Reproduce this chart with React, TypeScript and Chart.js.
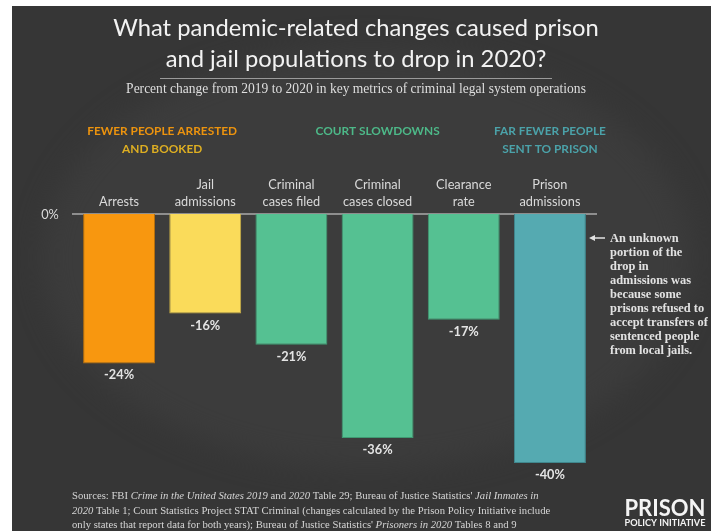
import React, { useEffect, useRef } from "react";
import { Chart, registerables } from "chart.js";
Chart.register(...registerables);

// ---------- data ----------
const titleLines = ["What pandemic-related changes caused prison", "and jail populations to drop in 2020?"];
const subtitle = "Percent change from 2019 to 2020 in key metrics of criminal legal system operations";
const categories = [
  ["Arrests"],
  ["Jail", "admissions"],
  ["Criminal", "cases filed"],
  ["Criminal", "cases closed"],
  ["Clearance", "rate"],
  ["Prison", "admissions"],
];
const values = [-24, -16, -21, -36, -17, -40];
const valueLabels = ["-24%", "-16%", "-21%", "-36%", "-17%", "-40%"];
const barColors = ["#F8970F", "#FADB5A", "#55C192", "#55C192", "#55C192", "#55AAB1"];
const barBorders = ["#B8700C", "#C9AE46", "#3F9A72", "#3F9A72", "#3F9A72", "#40878D"];
const yTickLabel = "0%";
const groupTitles = [
  ["FEWER PEOPLE ARRESTED", "AND BOOKED"],
  ["COURT SLOWDOWNS"],
  ["FAR FEWER PEOPLE", "SENT TO PRISON"],
];
const groupRanges = [[0, 1], [2, 4], [5, 5]];
const groupColors = [["#EC930E", "#DDAE22"], ["#4DB888"], ["#4BA2A9", "#4BA2A9"]];
const annotationLines = [
  "An unknown",
  "portion of the",
  "drop in",
  "admissions was",
  "because some",
  "prisons refused to",
  "accept transfers of",
  "sentenced people",
  "from local jails.",
];
type Seg = [string, boolean];
const sourceLines: Seg[][] = [
  [["Sources: FBI ", false], ["Crime in the United States 2019", true], [" and ", false], ["2020", true], [" Table 29; Bureau of Justice Statistics' ", false], ["Jail Inmates in", true]],
  [["2020", true], [" Table 1; Court Statistics Project STAT Criminal (changes calculated by the Prison Policy Initiative include", false]],
  [["only states that report data for both years); Bureau of Justice Statistics' ", false], ["Prisoners in 2020", true], [" Tables 8 and 9", false]],
];
const logoLines = ["PRISON", "POLICY INITIATIVE"];

// ---------- helpers ----------
const SANS = "Lato, 'Open Sans', sans-serif";
const SERIF = "'Liberation Serif', 'DejaVu Serif', serif";

function fitSize(ctx: CanvasRenderingContext2D, text: string, family: string, weight: string, style: string, width: number) {
  ctx.font = `${style} ${weight} 100px ${family}`;
  const w = ctx.measureText(text).width;
  return (100 * width) / w;
}

function segWidth(ctx: CanvasRenderingContext2D, segs: Seg[], size: number) {
  let w = 0;
  for (const [t, it] of segs) {
    ctx.font = `${it ? "italic " : ""}${size}px ${SERIF}`;
    w += ctx.measureText(t).width;
  }
  return w;
}

const decor = {
  id: "decor",
  beforeDraw(chart: any) {
    const ctx: CanvasRenderingContext2D = chart.ctx;
    const W = chart.width, H = chart.height;
    ctx.save();
    ctx.fillStyle = "#ffffff";
    ctx.fillRect(0, 0, W, H);
    ctx.fillStyle = "#363636";
    ctx.fillRect(12, 6, W - 12, H - 6);
    ctx.beginPath();
    ctx.rect(12, 6, W - 12, H - 6);
    ctx.clip();
    ctx.filter = "blur(14px)";
    ctx.fillStyle = "#3c3c3c";
    ctx.beginPath();
    ctx.ellipse(368, 258, 325, 210, 0, 0, Math.PI * 2);
    ctx.fill();
    ctx.restore();
  },
  beforeDatasetsDraw(chart: any) {
    const ctx: CanvasRenderingContext2D = chart.ctx;
    const y = chart.scales.y.getPixelForValue(0);
    const a = chart.chartArea;
    ctx.save();
    ctx.strokeStyle = "#8e8e8e";
    ctx.lineWidth = 2;
    ctx.beginPath();
    ctx.moveTo(a.left - 4, y);
    ctx.lineTo(a.right + 4, y);
    ctx.stroke();
    ctx.restore();
  },
  afterDatasetsDraw(chart: any) {
    const ctx: CanvasRenderingContext2D = chart.ctx;
    const xs = chart.scales.x, ys = chart.scales.y;
    const cx = 356;
    ctx.save();
    ctx.textAlign = "center";
    ctx.textBaseline = "alphabetic";

    // title
    const ts = fitSize(ctx, titleLines[0], SANS, "400", "normal", 486);
    ctx.font = `400 ${ts}px ${SANS}`;
    ctx.fillStyle = "#f2f2f2";
    ctx.fillText(titleLines[0], cx, 36);
    ctx.fillText(titleLines[1], cx, 67);

    // underline
    ctx.strokeStyle = "#9a9a9a";
    ctx.lineWidth = 1;
    ctx.beginPath();
    ctx.moveTo(160, 78.5);
    ctx.lineTo(552, 78.5);
    ctx.stroke();

    // subtitle
    const ss = fitSize(ctx, subtitle, SERIF, "400", "normal", 460);
    ctx.font = `${ss}px ${SERIF}`;
    ctx.fillStyle = "#dedede";
    ctx.fillText(subtitle, cx, 93);

    // group titles
    const gs = fitSize(ctx, groupTitles[0][0], SANS, "700", "normal", 150);
    ctx.font = `700 ${gs}px ${SANS}`;
    groupTitles.forEach((lines, gi) => {
      const [a, b] = groupRanges[gi];
      const gx = (xs.getPixelForValue(a) + xs.getPixelForValue(b)) / 2;
      lines.forEach((ln, li) => {
        ctx.fillStyle = groupColors[gi][li] || groupColors[gi][0];
        ctx.fillText(ln, gx, 135 + li * 18);
      });
    });

    // category labels
    const cs = fitSize(ctx, "admissions", SANS, "400", "normal", 61);
    ctx.font = `400 ${cs}px ${SANS}`;
    ctx.fillStyle = "#dadada";
    categories.forEach((lines, i) => {
      const x = xs.getPixelForValue(i);
      const n = lines.length;
      lines.forEach((ln, li) => {
        ctx.fillText(ln, x, 206 - (n - 1 - li) * 17);
      });
    });

    // y tick
    ctx.fillText(yTickLabel, 50, 219);

    // value labels
    ctx.font = `700 ${cs}px ${SANS}`;
    ctx.fillStyle = "#e4e4e4";
    values.forEach((v, i) => {
      const x = xs.getPixelForValue(i);
      const y = ys.getPixelForValue(v);
      ctx.fillText(valueLabels[i], x, y + 16);
    });

    // annotation
    ctx.textAlign = "left";
    const as = fitSize(ctx, "accept transfers of", SERIF, "700", "normal", 98);
    ctx.font = `700 ${as}px ${SERIF}`;
    ctx.fillStyle = "#e2e2e2";
    annotationLines.forEach((ln, i) => ctx.fillText(ln, 610, 242 + i * 14));
    // arrow
    ctx.strokeStyle = "#e2e2e2";
    ctx.lineWidth = 1.5;
    ctx.beginPath();
    ctx.moveTo(592, 238);
    ctx.lineTo(605, 238);
    ctx.stroke();
    ctx.fillStyle = "#e2e2e2";
    ctx.beginPath();
    ctx.moveTo(589, 238);
    ctx.lineTo(595, 235);
    ctx.lineTo(595, 241);
    ctx.closePath();
    ctx.fill();

    // sources
    ctx.font = `100px ${SERIF}`;
    const w2 = segWidth(ctx, sourceLines[1], 100);
    const srcSize = (100 * 479) / w2;
    ctx.fillStyle = "#d6d6d6";
    sourceLines.forEach((segs, li) => {
      let x = 72;
      const y = 499 + li * 14.5;
      for (const [t, it] of segs) {
        ctx.font = `${it ? "italic " : ""}${srcSize}px ${SERIF}`;
        ctx.fillText(t, x, y);
        x += ctx.measureText(t).width;
      }
    });

    // logo
    ctx.textAlign = "center";
    ctx.fillStyle = "#f4f4f4";
    const ls = fitSize(ctx, logoLines[0], SANS, "700", "normal", 81);
    ctx.font = `700 ${ls}px ${SANS}`;
    ctx.fillText(logoLines[0], 665, 516);
    const ls2 = fitSize(ctx, logoLines[1], SANS, "700", "normal", 81);
    ctx.font = `700 ${ls2}px ${SANS}`;
    ctx.fillText(logoLines[1], 665, 526);

    ctx.restore();
  },
};

export default function App() {
  const ref = useRef<HTMLCanvasElement>(null);
  useEffect(() => {
    document.body.style.margin = "0";
    const canvas = ref.current!;
    const chart = new Chart(canvas, {
      type: "bar",
      data: {
        labels: categories.map((c) => c.join(" ")),
        datasets: [
          {
            data: values,
            backgroundColor: barColors,
            borderColor: barBorders,
            borderWidth: 1,
            categoryPercentage: 1,
            barPercentage: 0.835,
          },
        ],
      },
      options: {
        responsive: false,
        animation: false,
        layout: { padding: { left: 76, right: 118, top: 214, bottom: 68 } },
        scales: {
          x: { display: false },
          y: { display: false, min: -40, max: 0 },
        },
        plugins: {
          legend: { display: false },
          tooltip: { enabled: false },
          title: { display: false },
        },
      },
      plugins: [decor],
    } as any);
    return () => chart.destroy();
  }, []);
  return <canvas ref={ref} width={711} height={531} style={{ display: "block" }} />;
}
